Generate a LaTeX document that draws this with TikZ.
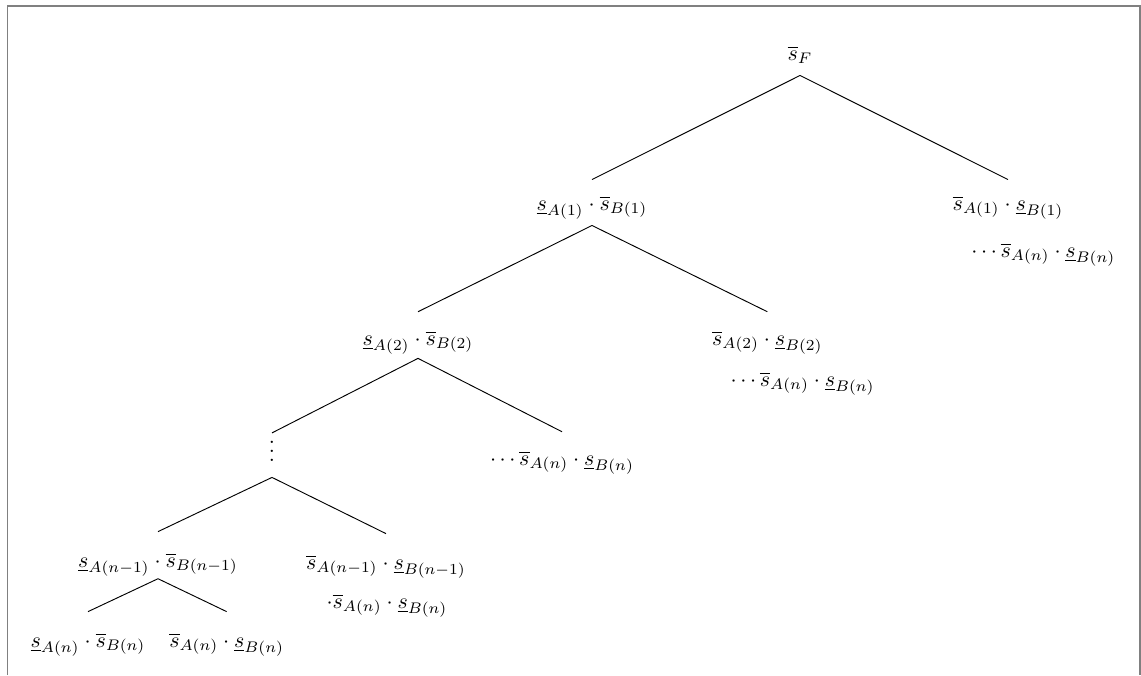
\documentclass[tikz,border=0pt]{standalone}
\usepackage{amsfonts, amsmath, amssymb}
\usepackage{graphicx}
\newcommand{\fm}[1]{\scalebox{0.935}{$#1$}}
\begin{document}
\begin{tikzpicture}[tn/.style = {anchor = base, inner ysep = 4.8pt, text height = 10.1pt, text depth = 0pt},
  rn/.style = {anchor = base, inner ysep = 6.4pt, text height = 8pt, text depth = 0pt},
  dn/.style = {anchor = base, inner ysep = 4.8pt, text height = 7pt, text depth = 2pt},
  tx/.style = {anchor = base}]
\useasboundingbox (0,0) rectangle (17.115,-10.125);
\draw[gray, line width = 0.6pt] (0.1125,-10.125)--(0.1125,-0.09)--(17.1,-0.09)--(17.1,-10.125);

\node[rn] (sF) at (12,-0.9) {\fm{\overline{s}_F}};

\node[tn, inner ysep = 6.4pt, text height = 6.4pt] (l1) at (8.88,-3.15) {\fm{\underline{s}_{A(1)} \cdot \overline{s}_{B(1)}}};
\node[tn, inner ysep = 6.4pt, text height = 6.4pt] (r1) at (15.12,-3.15) {\fm{\overline{s}_{A(1)} \cdot \underline{s}_{B(1)}}};
\node[tx] (r1b) at (15.65,-3.855) {\fm{\cdots \overline{s}_{A(n)} \cdot \underline{s}_{B(n)}}};

\node[tn, inner ysep = 5.5pt, text height = 8.5pt] (l2) at (6.27,-5.175) {\fm{\underline{s}_{A(2)} \cdot \overline{s}_{B(2)}}};
\node[tn, inner ysep = 5.5pt, text height = 8.5pt] (r2) at (11.51,-5.175) {\fm{\overline{s}_{A(2)} \cdot \underline{s}_{B(2)}}};
\node[tx] (r2b) at (12.04,-5.79) {\fm{\cdots \overline{s}_{A(n)} \cdot \underline{s}_{B(n)}}};

\node[dn] (vd) at (4.08,-6.915) {\fm{\vdots}};
\node[tn, inner ysep = 5.5pt, text height = 8.5pt] (d3) at (8.43,-6.975) {\fm{\cdots \overline{s}_{A(n)} \cdot \underline{s}_{B(n)}}};

\node[tn] (ln1) at (2.37,-8.505) {\fm{\underline{s}_{A(n-1)} \cdot \overline{s}_{B(n-1)}}};
\node[tn] (rn1) at (5.79,-8.535) {\fm{\overline{s}_{A(n-1)} \cdot \underline{s}_{B(n-1)}}};
\node[tx] (rn1b) at (5.805,-9.12) {\fm{\cdot \overline{s}_{A(n)} \cdot \underline{s}_{B(n)}}};

\node[tn] (lf1) at (1.32,-9.705) {\fm{\underline{s}_{A(n)} \cdot \overline{s}_{B(n)}}};
\node[tn] (lf2) at (3.4,-9.705) {\fm{\overline{s}_{A(n)} \cdot \underline{s}_{B(n)}}};

\draw (sF.south)--(l1.north);
\draw (sF.south)--(r1.north);
\draw (l1.south)--(l2.north);
\draw (l1.south)--(r2.north);
\draw (l2.south)--(vd.north);
\draw (l2.south)--(d3.north);
\draw (vd.south)--(ln1.north);
\draw (vd.south)--(rn1.north);
\draw (ln1.south)--(lf1.north);
\draw (ln1.south)--(lf2.north);
\end{tikzpicture}
\end{document}
